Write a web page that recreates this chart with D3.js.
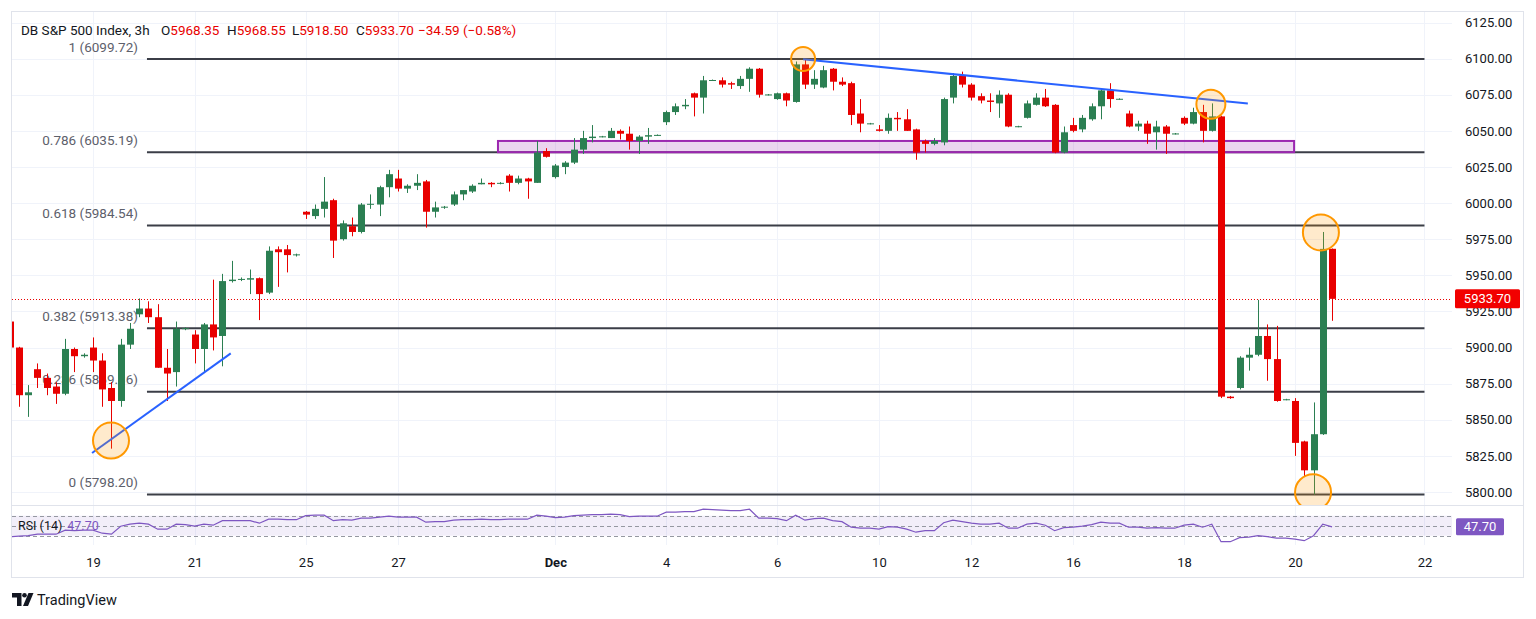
<!DOCTYPE html>
<html>
<head>
<meta charset="utf-8">
<script src="https://cdn.jsdelivr.net/npm/d3@7/dist/d3.min.js"></script>
<style>
  html, body { margin: 0; padding: 0; background: #fff; }
  svg { display: block; font-family: Roboto, "Noto Sans", sans-serif; }
</style>
</head>
<body>
<svg id="chart" width="1536" height="619"></svg>
<script>
// 3h candles, DB S&P 500 Index
const opens = [5918,5900,5867,5885,5879,5873,5868,5899,5894,5900,5891,5872,5863,5902,5923,5927,5921,5886,5883,5913,
  5909,5899,5916,5908,5946,5947,5947,5948,5938,5968,5968,5964,5994,5991,5996,6002,5975,5984,5980,5999,
  5999,6011,6017,6010,6012,6015,5994,5997,5999,6006,6008,6013,6014,6013.5,6019,6014,6017,6014,6036,6018,
  6025,6028,6037,6045,6046,6045,6050,6048,6043,6046,6047,6056,6063,6067,6076,6073,6085,6085,6083,6081,
  6086,6093,6075,6072,6076,6070,6096,6082,6080,6093,6084,6083,6062,6055,6051,6050,6059,6058,6051,6043,
  6041,6042,6073,6088,6082,6074,6071,6069,6075,6053,6059,6068,6073,6068,6035,6054,6051,6058,6067,6078,
  6072,6062,6053,6055,6049,6053,6048,6059,6055,6063,6050,6060,5866,5872,5893,5895,5908,5892,5864,5863,
  5835,5815,5840,5968.35];
const highs = [5921,5900.5,5874,5889,5882,5876,5906,5900,5896,5907,5896,5876,5906,5917,5934,5932,5930,5899,5918,5914,
  5912,5917,5947,5951,5960,5948.5,5954,5948.5,5970,5970,5971,5965,5994.5,5999,6018,6003,5988,5990,6000,6006,
  6012,6023,6023,6013,6020,6016,6001,5998,6008,6009,6013,6017,6014.5,6014.5,6020,6019,6017.5,6043,6038,6027,
  6029,6045,6050,6054,6046.5,6052,6051,6053,6047,6052,6047.5,6064,6069,6072,6076.5,6088,6085.5,6087,6084,6088,
  6094,6093.5,6075.5,6076.5,6076.5,6098,6099.72,6092,6095,6093.5,6087,6084,6072,6055.5,6054,6062,6063,6065,6051.5,6044,
  6045,6073,6090,6091,6083,6076,6076,6078,6076,6053.5,6071,6076,6079,6068.5,6053,6059,6061,6069,6079,6083,
  6072.5,6064,6057,6057,6057,6054,6048.5,6060,6066,6068,6069,6060.5,5866.5,5894,5900,5933,5916,5915,5864.5,5865,
  5835.5,5862,5980,5968.55];
const lows = [5899,5859,5852,5872,5867,5861,5867,5883,5893,5883,5859,5830,5859,5899,5921,5917,5886,5863,5873,5912,
  5889,5883,5898,5887,5945,5946,5937,5919,5937,5942,5952,5963,5989,5989,5990,5962,5974,5977,5979,5996,
  5991,6004,6008,6007,6009,5983,5990,5996,5998,6002,6007,6013,6011,6013,6008,6013,6003,6014,6031.5,6017,
  6020,6027,6034,6042,6045.5,6045,6044,6037,6034,6041,6046.5,6054,6061,6065,6060,6062,6084.5,6080,6079,6079,
  6077,6073,6074.5,6071.5,6067,6069.5,6079,6079,6079.5,6078,6081,6054,6049,6054.5,6049.5,6048,6050,6050,6030,6035,
  6040,6040,6069,6080,6071,6069,6063,6059,6052.5,6052.5,6058.5,6067.5,6066.5,6034.5,6034.5,6049,6049,6057,6058,6066,
  6071.5,6052.5,6050,6041,6037,6034,6047.5,6054,6054.5,6042,6049.5,5865,5864.5,5871,5884,5894,5877,5862.5,5863.5,5825,
  5811,5798.2,5839.5,5918.5];
const closes = [5900,5867,5869,5879,5872,5868,5899,5894,5895,5891,5871,5863,5902,5913,5927,5921,5886,5882,5913,5913.4,
  5899,5916,5907,5946,5947,5947.5,5948,5937,5967,5966,5964,5964.5,5992,5996,6001,5974,5986,5980,5999,5999.5,
  6011,6020,6010,6012,6014,5994,5997,5997.5,6006,6009,6012,6014,6013,6014,6014,6017,6015,6035,6032,6026,
  6028,6037,6045,6046,6046.2,6050,6048,6043,6046,6047,6047.2,6063,6067,6068,6073,6085,6085.2,6082,6082,6086,
  6093,6075,6075.2,6076,6071,6096,6082,6086,6092,6084,6082,6061,6055,6055.2,6050,6059,6058,6050,6035,6041,
  6043,6072,6088,6082,6073,6071,6070,6075,6053,6053.2,6069,6073,6067,6035,6049,6050,6059,6067,6078,6072,
  6072.2,6053,6055,6048,6053,6048,6048.2,6055,6063,6050,6060,5866,5865,5893,5895,5908,5892,5863,5864.2,5834,
  5815,5840,5968.29,5933.7];

// RSI (14), one value per candle
const rsi14 = [28,29,30,33,33,33,41,40,41,41,35,33,49,53,55,53,43,43,53,52,
  49,53,51,60,60,60,60,55,63,63,62,62,70,71,71,60,62,61,65,65,
  67,69,67,67,67,57,58,58,61,62,62,63,62,62,63,63,63,71,69,66,
  67,70,71,72,72,73,72,68,69,69,69,77,77,78,78,83,82,81,80,80,
  83,65,65,64,60,71,61,64,65,60,58,47,45,45,43,48,47,43,37,40,
  40,56,61,58,55,53,53,55,45,45,53,55,51,40,46,47,49,52,57,55,
  55,47,47,45,46,45,45,51,53,47,53,18,18,26,27,30,28,25,25,23,
  20,30,53,47.7];

// time axis: bar index of the first bar of each labelled day
const dayTicks = [9, 20, 32, 42, 59, 71, 83, 94, 104, 115, 127, 139, 153];
const dayLabels = ["19", "21", "25", "27", "Dec", "4", "6", "10", "12", "16", "18", "20", "22"];
const priceTicks = [5800, 5825, 5850, 5875, 5900, 5925, 5950, 5975, 6000, 6025, 6050, 6075, 6100, 6125];

// Fibonacci retracement
const fibLevels = ["1", "0.786", "0.618", "0.382", "0.236", "0"];
const fibPrices = [6099.72, 6035.19, 5984.54, 5913.38, 5869.36, 5798.20];
const fibSpan = [14.84, 153];

// support zone [startBar, endBar, lowPrice, highPrice]
const zone = [52.8, 138.9, 6035.2, 6043];
// trend lines [bar1, price1, bar2, price2]
const trendLines = [[8.9, 5827, 23.9, 5896], [85.8, 6099.5, 133.9, 6069]];
// highlighted points [bar, price]
const marks = [[10.95, 5835.6], [85.8, 6099.7], [129.9, 6068.4], [141.8, 5979.7], [140.95, 5799.8]];
const markRadius = [18, 12, 14.5, 18, 18];

const lastPrice = 5933.70;
const lastRsi = 47.70;

const UP = "#2b7f52", DOWN = "#e80000";
const paneL = 12, paneR = 1452, mainT = 12, mainB = 505, rsiB = 545;

const svg = d3.select("#chart");
const x = d3.scaleLinear().domain([0, 143]).range([9.75, 1332]);
const y = d3.scaleLinear().domain([5800, 6125]).range([492, 22.5]);
const yR = d3.scaleLinear().domain([0, 100]).range([550.7, 500.7]);

svg.append("rect").attr("width", 1536).attr("height", 619).attr("fill", "#fff");
svg.append("rect")
  .attr("x", 11.5).attr("y", 11.5).attr("width", 1512).attr("height", 566)
  .attr("fill", "#fff").attr("stroke", "#e0e3eb");

const defs = svg.append("defs");
defs.append("clipPath").attr("id", "clipMain").append("rect")
  .attr("x", paneL).attr("y", mainT).attr("width", paneR - paneL).attr("height", mainB - mainT);
defs.append("clipPath").attr("id", "clipRsi").append("rect")
  .attr("x", paneL).attr("y", mainB + 1).attr("width", paneR - paneL).attr("height", rsiB - mainB - 1);

// grid
const grid = svg.append("g").attr("stroke", "#f0f3fa");
grid.selectAll("line.v").data(dayTicks).join("line").attr("class", "v")
  .attr("x1", d => Math.round(x(d)) + 0.5).attr("x2", d => Math.round(x(d)) + 0.5)
  .attr("y1", mainT).attr("y2", rsiB);
grid.selectAll("line.h").data(priceTicks).join("line").attr("class", "h")
  .attr("x1", paneL).attr("x2", paneR)
  .attr("y1", d => Math.round(y(d)) + 0.5).attr("y2", d => Math.round(y(d)) + 0.5);

// pane separator
svg.append("line").attr("x1", 12).attr("x2", 1523).attr("y1", mainB + 0.5).attr("y2", mainB + 0.5)
  .attr("stroke", "#e0e3eb");

const main = svg.append("g").attr("clip-path", "url(#clipMain)");

// fib lines and labels
main.selectAll("line.fib").data(fibPrices).join("line").attr("class", "fib")
  .attr("x1", x(fibSpan[0])).attr("x2", x(fibSpan[1]))
  .attr("y1", d => y(d)).attr("y2", d => y(d))
  .attr("stroke", "#3b3e47").attr("stroke-width", 2);
main.selectAll("text.fib").data(fibPrices).join("text").attr("class", "fib")
  .attr("x", x(fibSpan[0]) - 9).attr("y", d => y(d) - 7.5)
  .attr("text-anchor", "end").attr("font-size", 13.5).attr("fill", "#5d606b")
  .text((d, i) => `${fibLevels[i]} (${d.toFixed(2)})`);

// zone
main.append("rect")
  .attr("x", x(zone[0])).attr("width", x(zone[1]) - x(zone[0]))
  .attr("y", y(zone[3])).attr("height", y(zone[2]) - y(zone[3]))
  .attr("fill", "rgba(156,39,176,0.2)").attr("stroke", "#9c27b0").attr("stroke-width", 2);

// current price line
main.append("line").attr("x1", paneL).attr("x2", paneR)
  .attr("y1", Math.round(y(lastPrice)) + 0.5).attr("y2", Math.round(y(lastPrice)) + 0.5)
  .attr("stroke", DOWN).attr("stroke-dasharray", "1,2");

// candles
const candles = opens.map((o, i) => ({ i, o, h: highs[i], l: lows[i], c: closes[i] }));
const cg = main.append("g");
cg.selectAll("line.wick").data(candles).join("line").attr("class", "wick")
  .attr("x1", d => Math.round(x(d.i)) + 0.5).attr("x2", d => Math.round(x(d.i)) + 0.5)
  .attr("y1", d => y(d.h)).attr("y2", d => y(d.l))
  .attr("stroke", d => d.c >= d.o ? UP : DOWN).attr("stroke-width", 1);
cg.selectAll("rect.body").data(candles).join("rect").attr("class", "body")
  .attr("x", d => Math.round(x(d.i)) - 3).attr("width", 7)
  .attr("y", d => y(Math.max(d.o, d.c)))
  .attr("height", d => Math.max(1, Math.abs(y(d.o) - y(d.c))))
  .attr("fill", d => d.c >= d.o ? UP : DOWN);

// trend lines and circles
main.selectAll("line.trend").data(trendLines).join("line").attr("class", "trend")
  .attr("x1", d => x(d[0])).attr("y1", d => y(d[1]))
  .attr("x2", d => x(d[2])).attr("y2", d => y(d[3]))
  .attr("stroke", "#2962ff").attr("stroke-width", 2);
main.selectAll("circle.mark").data(marks).join("circle").attr("class", "mark")
  .attr("cx", d => x(d[0])).attr("cy", d => y(d[1]))
  .attr("r", (d, i) => markRadius[i])
  .attr("fill", "rgba(255,152,0,0.2)").attr("stroke", "#ff9800").attr("stroke-width", 2);

// RSI pane
const rg = svg.append("g").attr("clip-path", "url(#clipRsi)");
rg.append("rect").attr("x", paneL).attr("width", paneR - paneL)
  .attr("y", yR(70)).attr("height", yR(30) - yR(70)).attr("fill", "rgba(126,87,194,0.1)");
rg.selectAll("line.lvl").data([70, 50, 30]).join("line").attr("class", "lvl")
  .attr("x1", paneL).attr("x2", paneR)
  .attr("y1", d => Math.round(yR(d)) + 0.5).attr("y2", d => Math.round(yR(d)) + 0.5)
  .attr("stroke", "#9598a1").attr("stroke-dasharray", "4,3");
rg.append("path").datum(rsi14)
  .attr("d", d3.line().x((d, i) => x(i)).y(d => yR(d)))
  .attr("fill", "none").attr("stroke", "#7e57c2").attr("stroke-width", 1.2);

const rsiLabel = svg.append("text").attr("x", 18).attr("y", 530).attr("font-size", 12.5).attr("fill", "#131722");
rsiLabel.append("tspan").text("RSI (14)");
rsiLabel.append("tspan").attr("dx", 5).attr("fill", "#7e57c2").text(lastRsi.toFixed(2));

// price axis
const pAxis = svg.append("g").attr("transform", "translate(1465,0)")
  .call(d3.axisRight(y).tickValues(priceTicks).tickFormat(d => d.toFixed(2)).tickSize(0).tickPadding(0));
pAxis.select(".domain").remove();
pAxis.selectAll("text").attr("font-size", 13).attr("font-family", "Roboto, sans-serif").attr("fill", "#131722");

// last price label
svg.append("rect").attr("x", 1455).attr("y", y(lastPrice) - 9.5).attr("width", 65).attr("height", 19)
  .attr("rx", 1.5).attr("fill", "#f20000");
svg.append("text").attr("x", 1487.5).attr("y", y(lastPrice) + 4.5).attr("text-anchor", "middle")
  .attr("font-size", 13).attr("fill", "#fff").text(lastPrice.toFixed(2));

// rsi value label
svg.append("rect").attr("x", 1456).attr("y", yR(lastRsi) - 8.5).attr("width", 48).attr("height", 17)
  .attr("rx", 1.5).attr("fill", "#7e57c2");
svg.append("text").attr("x", 1480).attr("y", yR(lastRsi) + 4.5).attr("text-anchor", "middle")
  .attr("font-size", 13).attr("fill", "#fff").text(lastRsi.toFixed(2));

// time axis
const tAxis = svg.append("g").attr("transform", "translate(0,558)")
  .call(d3.axisBottom(x).tickValues(dayTicks).tickFormat((d, i) => dayLabels[i]).tickSize(0).tickPadding(0));
tAxis.select(".domain").remove();
tAxis.selectAll("text").attr("font-size", 13).attr("font-family", "Roboto, sans-serif").attr("fill", "#131722")
  .attr("font-weight", (d, i) => dayLabels[i] === "Dec" ? "bold" : null);

// header
const header = svg.append("text").attr("y", 35).attr("font-size", 13.5).attr("fill", "#131722");
header.append("tspan").attr("x", 21).text("DB S&P 500 Index, 3h");
const ohlcKeys = ["O", "H", "L", "C"];
const ohlcVals = [opens[143], highs[143], lows[143], closes[143]];
const ohlcX = [161, 227, 292, 356];
ohlcKeys.forEach((k, i) => {
  header.append("tspan").attr("x", ohlcX[i]).text(k);
  header.append("tspan").attr("fill", DOWN).text(ohlcVals[i].toFixed(2));
});
const chg = closes[143] - closes[142];
header.append("tspan").attr("x", 418).attr("fill", DOWN)
  .text(`\u2212${Math.abs(chg).toFixed(2)} (\u2212${Math.abs(chg / closes[142] * 100).toFixed(2)}%)`);

// TradingView logo
const logo = svg.append("g").attr("fill", "#131722");
logo.append("path").attr("d", "M12 593h9.5v13h-4.5v-8.5H12z");
logo.append("circle").attr("cx", 24.5).attr("cy", 595.3).attr("r", 2.3);
logo.append("path").attr("d", "M28.5 593h5l-5.5 13h-5z");
logo.append("text").attr("x", 37).attr("y", 605).attr("font-size", 14.5).text("TradingView");
</script>
</body>
</html>
